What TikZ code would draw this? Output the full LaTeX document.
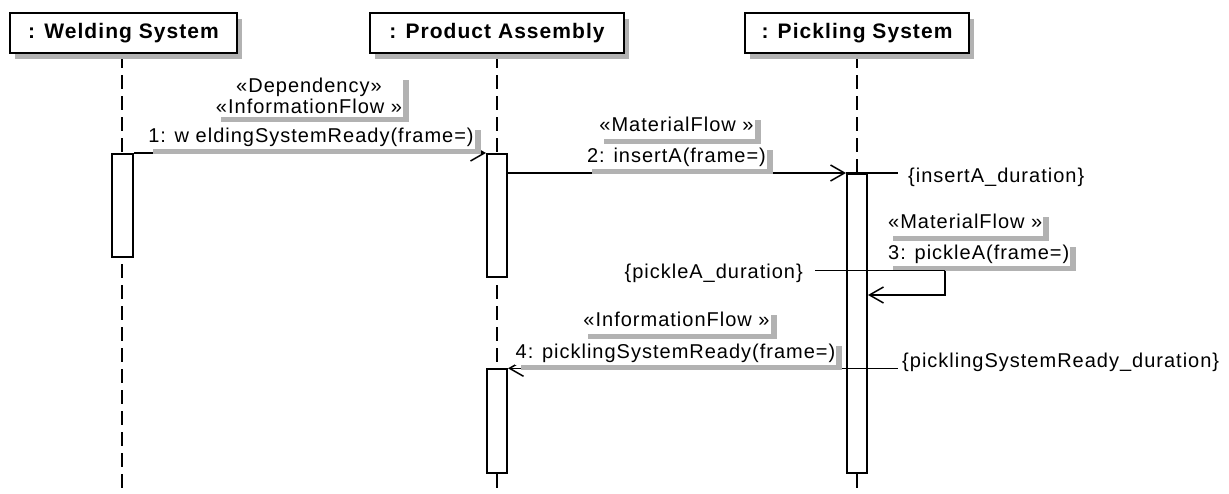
\documentclass[tikz,border=0pt]{standalone}
\usepackage{fontspec}
\setmainfont{Liberation Sans}
\newfontfamily\lblfont[LetterSpace=5]{Liberation Sans}
\newfontfamily\hdrfont[LetterSpace=5]{Liberation Sans}
\usetikzlibrary{arrows.meta,shadows}
\begin{document}
\begin{tikzpicture}[x=1pt,y=-1pt,
  hdr/.style={draw, line width=2pt, fill=white, minimum height=40.6pt, inner sep=0pt,
    font=\hdrfont\bfseries\fontsize{21}{24}\selectfont,
    drop shadow={shadow xshift=5pt, shadow yshift=-6pt, fill=black!30, opacity=1}},
  life/.style={line width=1.8pt, dash pattern=on 14pt off 7pt},
  act/.style={draw, line width=2pt, fill=white, inner sep=0pt},
  msg/.style={line width=1.5pt, -{Straight Barb[length=14pt,width=16pt,line width=1.5pt]}},
  lbl/.style={fill=white, inner xsep=1pt, inner ysep=2pt,
    font=\lblfont\fontsize{20}{19.6}\selectfont,
    drop shadow={shadow xshift=6pt, shadow yshift=-5pt, fill=black!30, opacity=1}},
  lbl1/.style={lbl, text height=15pt, text depth=5pt},
  cons/.style={inner sep=0pt, font=\lblfont\fontsize{20}{24}\selectfont},
  cline/.style={line width=1.5pt}
]
\useasboundingbox (0,0) rectangle (1229,493);
\fill[white] (0,0) rectangle (1229,493);

% lifeline ends
\coordinate (eW) at (122.3,493);
\coordinate (eP) at (497,493);
\coordinate (eK) at (857,493);
\draw[life] (122.3,54) -- (eW);
\draw[life] (497,54) -- (eP);
\draw[life] (857,54) -- (eK);

% headers
\node[hdr, minimum width=226.4pt] (hW) at (123.5,33) {: Welding System};
\node[hdr, minimum width=253.4pt] (hP) at (497,33) {: Product Assembly};
\node[hdr, minimum width=224pt] (hK) at (857,33) {: Pickling System};

% activations
\node[act, minimum width=21pt, minimum height=103pt] (aW) at (122.5,205.5) {};
\node[act, minimum width=20pt, minimum height=123pt] (aP1) at (497,215.5) {};
\node[act, minimum width=20pt, minimum height=298.7pt] (aK) at (857,323.35) {};
\node[act, minimum width=20pt, minimum height=103.4pt] (aP2) at (497,421) {};

% messages
\draw[msg] (aW.north east) -- (aP1.north west);
\draw[msg] (aP1.east |- aK.north) -- (aK.north west);
\coordinate (m3a) at (945,270.7);
\coordinate (m3b) at (945,295);
\draw[msg] (aK.east |- m3a) -- (m3a) -- (m3b) -- (aK.east |- m3b);
\draw[msg] (aK.west |- aP2.north) -- (aP2.north east);

% labels
\node[lbl, align=center, inner ysep=3pt] (L1s) at (309,96) {«Dependency»\\[1pt]«InformationFlow »};
\node[lbl1] (L1m) at (311,137) {1: w eldingSystemReady(frame=)};
\node[lbl1] (L2s) at (676.5,126.5) {«MaterialFlow »};
\node[lbl1] (L2m) at (676.5,157) {2: insertA(frame=)};
\node[lbl1, anchor=west] (L3s) at (887,223.5) {«MaterialFlow »};
\node[lbl1, anchor=west] (L3m) at (887,254) {3: pickleA(frame=)};
\node[lbl1] (L4s) at (676.5,321.5) {«InformationFlow »};
\node[lbl1] (L4m) at (675.5,353) {4: picklingSystemReady(frame=)};

% constraints
\node[cons, anchor=west] (c1) at (908,177) {\{insertA\_duration\}};
\node[cons, anchor=east] (c2) at (803,273) {\{pickleA\_duration\}};
\node[cons, anchor=west] (c3) at (902,362) {\{picklingSystemReady\_duration\}};
\draw[cline, shorten >=10pt] (aK.north west) -- (aK.north west -| c1.west);
\draw[cline, shorten <=12pt] (c2.east |- m3a) -- (m3a);
\draw[cline, shorten >=4pt] (aK.west |- aP2.north) -- (aK.west |- aP2.north -| c3.west);
\end{tikzpicture}
\end{document}
